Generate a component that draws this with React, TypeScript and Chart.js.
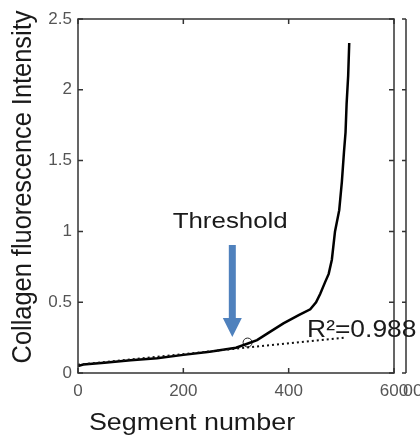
import { useEffect, useRef } from "react";
import { Chart, registerables } from "chart.js";

Chart.register(...registerables);

// ---- data ----
const segmentNumbers = [0, 10, 50, 100, 150, 200, 250, 300, 320, 340, 360, 390, 420, 441, 452, 460, 469, 476, 482, 488, 496, 501, 505, 508, 510, 513, 515];
const intensities = [0.05, 0.06, 0.072, 0.09, 0.105, 0.128, 0.15, 0.178, 0.205, 0.232, 0.28, 0.35, 0.41, 0.45, 0.5, 0.56, 0.64, 0.7, 0.8, 1.0, 1.15, 1.35, 1.56, 1.7, 1.9, 2.1, 2.33];
const fitX = [0, 507];
const fitY = [0.058, 0.25];
const thresholdX = [322];
const thresholdY = [0.215];
const xTickValues = [0, 200, 400, 600];
const yTickValues = [0, 0.5, 1, 1.5, 2, 2.5];

const xTitle = "Segment number";
const yTitle = "Collagen fluorescence Intensity";
const thresholdLabel = "Threshold";
const r2Label = "R²=0.988";

// annotation anchors (data units)
const arrowX = 293;
const arrowTopY = 0.904;
const arrowHeadBaseY = 0.388;
const arrowTipY = 0.254;
const thresholdLabelX = 289;
const thresholdLabelY = 1.024;
const r2LabelX = 435;
const r2LabelY = 0.254;

const FONT = '"Liberation Sans", Arial, sans-serif';

function stretchedText(
  ctx: CanvasRenderingContext2D,
  text: string,
  x: number,
  y: number,
  size: number,
  sx: number,
  align: CanvasTextAlign,
  baseline: CanvasTextBaseline,
  color: string,
  rotate = 0
) {
  ctx.save();
  ctx.translate(x, y);
  ctx.scale(sx, 1);
  if (rotate) ctx.rotate(rotate);
  ctx.font = `${size}px ${FONT}`;
  ctx.textAlign = align;
  ctx.textBaseline = baseline;
  ctx.fillStyle = color;
  ctx.fillText(text, 0, 0);
  ctx.restore();
}

const decorPlugin = {
  id: "decor",
  afterDraw(chart: any) {
    const ctx: CanvasRenderingContext2D = chart.ctx;
    const { left, right, top, bottom } = chart.chartArea;
    const xs = chart.scales.x;
    const ys = chart.scales.y;
    ctx.save();
    // frame
    ctx.strokeStyle = "#333";
    ctx.lineWidth = 1.5;
    ctx.strokeRect(left, top, right - left, bottom - top);
    // inner ticks
    const tl = 5;
    ctx.beginPath();
    xTickValues.forEach((v) => {
      const px = xs.getPixelForValue(v);
      ctx.moveTo(px, bottom);
      ctx.lineTo(px, bottom - tl);
      ctx.moveTo(px, top);
      ctx.lineTo(px, top + tl);
    });
    yTickValues.forEach((v) => {
      const py = ys.getPixelForValue(v);
      ctx.moveTo(left, py);
      ctx.lineTo(left + tl, py);
      ctx.moveTo(right, py);
      ctx.lineTo(right - tl, py);
    });
    ctx.stroke();
    // second (cut-off) axis on the right
    const ax = right + 12;
    ctx.beginPath();
    ctx.moveTo(ax, ys.getPixelForValue(2.5));
    ctx.lineTo(ax, ys.getPixelForValue(0));
    yTickValues.forEach((v) => {
      const py = ys.getPixelForValue(v);
      ctx.moveTo(ax, py);
      ctx.lineTo(ax - 4, py);
    });
    ctx.stroke();
    stretchedText(ctx, "00", ax - 3, bottom + 18, 17, 1.05, "left", "middle", "#555");

    // arrow
    const axp = xs.getPixelForValue(arrowX);
    const yTop = ys.getPixelForValue(arrowTopY);
    const yBase = ys.getPixelForValue(arrowHeadBaseY);
    const yTip = ys.getPixelForValue(arrowTipY);
    ctx.fillStyle = "#4f81bd";
    ctx.fillRect(axp - 3.5, yTop, 7, yBase - yTop + 1);
    ctx.beginPath();
    ctx.moveTo(axp - 9.5, yBase);
    ctx.lineTo(axp + 9.5, yBase);
    ctx.lineTo(axp, yTip);
    ctx.closePath();
    ctx.fill();

    // annotation texts
    stretchedText(ctx, thresholdLabel, xs.getPixelForValue(thresholdLabelX), ys.getPixelForValue(thresholdLabelY), 22.5, 1.15, "center", "alphabetic", "#1a1a1a");
    stretchedText(ctx, r2Label, xs.getPixelForValue(r2LabelX), ys.getPixelForValue(r2LabelY), 24, 1.1, "left", "alphabetic", "#1a1a1a");

    // axis titles
    stretchedText(ctx, xTitle, 192, 430, 24, 1.12, "center", "alphabetic", "#1a1a1a");
    stretchedText(ctx, yTitle, 23, 187, 25.4, 1.1, "center", "middle", "#1a1a1a", -Math.PI / 2);
    ctx.restore();
  },
};

export default function App() {
  const ref = useRef<HTMLCanvasElement | null>(null);
  useEffect(() => {
    document.body.style.margin = "0";
    if (!ref.current) return;
    const chart = new Chart(ref.current, {
      type: "scatter",
      data: {
        datasets: [
          {
            label: "fit",
            data: fitX.map((x, i) => ({ x, y: fitY[i] })),
            showLine: true,
            borderColor: "#111",
            borderWidth: 2,
            borderDash: [2, 3],
            pointRadius: 0,
          },
          {
            label: "intensity",
            data: segmentNumbers.map((x, i) => ({ x, y: intensities[i] })),
            showLine: true,
            borderColor: "#000",
            borderWidth: 2.5,
            pointRadius: 0,
            tension: 0,
          },
          {
            label: "threshold",
            data: thresholdX.map((x, i) => ({ x, y: thresholdY[i] })),
            showLine: false,
            pointRadius: 4.5,
            pointBorderColor: "#222",
            pointBackgroundColor: "rgba(0,0,0,0)",
            pointBorderWidth: 1,
          },
        ],
      },
      options: {
        animation: false,
        responsive: false,
        layout: { padding: { top: 19, right: 26, left: 0, bottom: 0 } },
        plugins: { legend: { display: false }, tooltip: { enabled: false } },
        scales: {
          x: {
            type: "linear",
            min: 0,
            max: 600,
            afterBuildTicks: (s: any) => {
              s.ticks = xTickValues.map((v) => ({ value: v }));
            },
            afterFit: (s: any) => {
              s.height = 62;
            },
            grid: { display: false, drawTicks: false },
            border: { display: false },
            ticks: { color: "#555", padding: 8, font: { size: 17, family: FONT }, maxRotation: 0 },
          },
          y: {
            type: "linear",
            min: 0,
            max: 2.5,
            afterBuildTicks: (s: any) => {
              s.ticks = yTickValues.map((v) => ({ value: v }));
            },
            afterFit: (s: any) => {
              s.width = 78;
            },
            grid: { display: false, drawTicks: false },
            border: { display: false },
            ticks: {
              color: "#555",
              padding: 6,
              font: { size: 17, family: FONT },
              callback: (v: any) => String(v),
            },
          },
        },
      },
      plugins: [decorPlugin],
    });
    return () => chart.destroy();
  }, []);
  return (
    <div style={{ width: 420, height: 435 }}>
      <canvas ref={ref} width={420} height={435} />
    </div>
  );
}
